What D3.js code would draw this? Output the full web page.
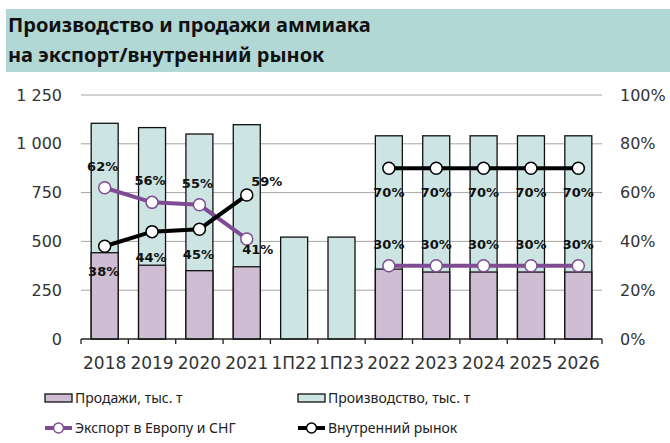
<!DOCTYPE html>
<html lang="ru">
<head>
<meta charset="utf-8">
<title>Аммиак</title>
<style>
body { margin: 0; background: #fff; }
svg text { font-family: "DejaVu Sans", sans-serif; }
.tick-l { font-size: 16px; fill: #333; }
.tick-x { font-size: 17px; fill: #333; }
.title { font-size: 20px; font-weight: bold; fill: #111; font-family: "Noto Sans", sans-serif; }
.lbl { font-size: 13px; font-weight: bold; fill: #111; }
.leg { font-size: 14px; fill: #222; font-family: "Noto Sans", sans-serif; }
</style>
</head>
<body>
<div id="chart"></div>
<script src="https://d3js.org/d3.v7.min.js"></script>
<script>
// data
var categories = ["2018", "2019", "2020", "2021", "1П22", "1П23", "2022", "2023", "2024", "2025", "2026"];
var production = [1105, 1083, 1050, 1098, 522, 522, 1041, 1041, 1041, 1041, 1041];
var sales = [442, 378, 350, 370, null, null, 358, 343, 343, 343, 343];
var exportShare = [62, 56, 55, 41, null, null, 30, 30, 30, 30, 30];
var domesticShare = [38, 44, 45, 59, null, null, 70, 70, 70, 70, 70];
var leftTicks = [0, 250, 500, 750, 1000, 1250];
var rightTicks = [0, 20, 40, 60, 80, 100];

var W = 670, H = 443;
var colProd = "#cde5e2", colSales = "#cfbdd3", colExp = "#7f4c94", colDom = "#000";

var svg = d3.select("#chart").append("svg")
	.attr("width", W).attr("height", H);

// title band
svg.append("rect")
	.attr("x", 6).attr("y", 9).attr("width", 664).attr("height", 63)
	.attr("fill", "#b2d8d5");
svg.append("text").attr("class", "title").attr("x", 8).attr("y", 32)
	.text("Производство и продажи аммиака");
svg.append("text").attr("class", "title").attr("x", 8).attr("y", 62)
	.text("на экспорт/внутренний рынок");

var x0 = 81, x1 = 602, yTop = 95, yBot = 339;

var x = d3.scaleBand().domain(categories).range([x0, x1]).paddingInner(0.43).paddingOuter(0.215);
var xc = d3.scalePoint().domain(categories).range([x0, x1]).padding(0.5);
var y = d3.scaleLinear().domain([0, 1250]).range([yBot, yTop]);
var yr = d3.scaleLinear().domain([0, 100]).range([yBot, yTop]);

// gridlines
svg.append("g").selectAll("line").data(leftTicks.slice(1)).join("line")
	.attr("x1", x0).attr("x2", x1)
	.attr("y1", d => y(d)).attr("y2", d => y(d))
	.attr("stroke", "#a6a6a6").attr("stroke-width", 1);

// left axis labels
svg.append("g").selectAll("text").data(leftTicks).join("text")
	.attr("class", "tick-l")
	.attr("x", 62).attr("y", d => y(d)).attr("dy", "0.35em")
	.attr("text-anchor", "end")
	.text(d => d3.format(",")(d).replace(",", " "));

// right axis labels
svg.append("g").selectAll("text").data(rightTicks).join("text")
	.attr("class", "tick-l")
	.attr("x", 620).attr("y", d => yr(d)).attr("dy", "0.35em")
	.text(d => d + "%");

// bars: production behind, sales in front
var bw = x.bandwidth();
svg.append("g").selectAll("rect").data(categories).join("rect")
	.attr("x", (d, i) => xc(d) - bw / 2).attr("width", bw)
	.attr("y", (d, i) => y(production[i]))
	.attr("height", (d, i) => yBot - y(production[i]))
	.attr("fill", colProd).attr("stroke", "#111").attr("stroke-width", 1.3);

svg.append("g").selectAll("rect").data(categories.filter((d, i) => sales[i] != null)).join("rect")
	.attr("x", d => xc(d) - bw / 2).attr("width", bw)
	.attr("y", d => y(sales[categories.indexOf(d)]))
	.attr("height", d => yBot - y(sales[categories.indexOf(d)]))
	.attr("fill", colSales).attr("stroke", "#111").attr("stroke-width", 1.3);

// x axis
var step = (x1 - x0) / categories.length;
svg.append("line").attr("x1", x0).attr("x2", x1).attr("y1", yBot).attr("y2", yBot)
	.attr("stroke", "#222").attr("stroke-width", 1.3);
svg.append("g").selectAll("line").data(d3.range(categories.length + 1)).join("line")
	.attr("x1", d => x0 + d * step).attr("x2", d => x0 + d * step)
	.attr("y1", yBot).attr("y2", yBot + 5)
	.attr("stroke", "#222").attr("stroke-width", 1.3);
svg.append("g").selectAll("text").data(categories).join("text")
	.attr("class", "tick-x")
	.attr("x", d => xc(d)).attr("y", 369)
	.attr("text-anchor", "middle")
	.text(d => d);

// lines
function drawLine(vals, color) {
	var pts = categories.map((c, i) => ({ c: c, v: vals[i] }));
	var line = d3.line().defined(d => d.v != null).x(d => xc(d.c)).y(d => yr(d.v));
	svg.append("path").datum(pts).attr("d", line)
		.attr("fill", "none").attr("stroke", color).attr("stroke-width", 4);
	svg.append("g").selectAll("circle").data(pts.filter(d => d.v != null)).join("circle")
		.attr("cx", d => xc(d.c)).attr("cy", d => yr(d.v)).attr("r", 6)
		.attr("fill", "#fff").attr("stroke", color).attr("stroke-width", 1.5);
}
drawLine(exportShare, colExp);
drawLine(domesticShare, colDom);

// data labels
function labels(vals, pos) {
	svg.append("g").selectAll("text").data(categories.map((c, i) => ({ c: c, v: vals[i], i: i })).filter(d => d.v != null))
		.join("text").attr("class", "lbl").attr("text-anchor", "middle")
		.attr("x", d => xc(d.c) + pos(d).dx)
		.attr("y", d => yr(d.v) + pos(d).dy)
		.text(d => d.v + "%");
}
labels(exportShare, d => d.i === 3 ? { dx: 11, dy: 15 } : (d.i < 4 ? { dx: -2, dy: -17 } : { dx: 0, dy: -17 }));
labels(domesticShare, d => d.i === 3 ? { dx: 20, dy: -9 } : (d.i < 4 ? { dx: -1, dy: 30 } : { dx: 0, dy: 29 }));

// legend
var lg = svg.append("g");
[[45, colSales, "Продажи, тыс. т"], [298, colProd, "Производство, тыс. т"]].forEach(function(l) {
	lg.append("rect").attr("x", l[0]).attr("y", 394).attr("width", 27).attr("height", 8)
		.attr("fill", l[1]).attr("stroke", "#111").attr("stroke-width", 1.3);
	lg.append("text").attr("class", "leg").attr("x", l[0] + 30).attr("y", 403).text(l[2]);
});
[[45, colExp, "Экспорт в Европу и СНГ"], [298, colDom, "Внутренний рынок"]].forEach(function(l) {
	lg.append("line").attr("x1", l[0]).attr("x2", l[0] + 27).attr("y1", 428).attr("y2", 428)
		.attr("stroke", l[1]).attr("stroke-width", 4);
	lg.append("circle").attr("cx", l[0] + 13.5).attr("cy", 428).attr("r", 5)
		.attr("fill", "#fff").attr("stroke", l[1]).attr("stroke-width", 1.5);
	lg.append("text").attr("class", "leg").attr("x", l[0] + 30).attr("y", 433).text(l[2]);
});
</script>
</body>
</html>
